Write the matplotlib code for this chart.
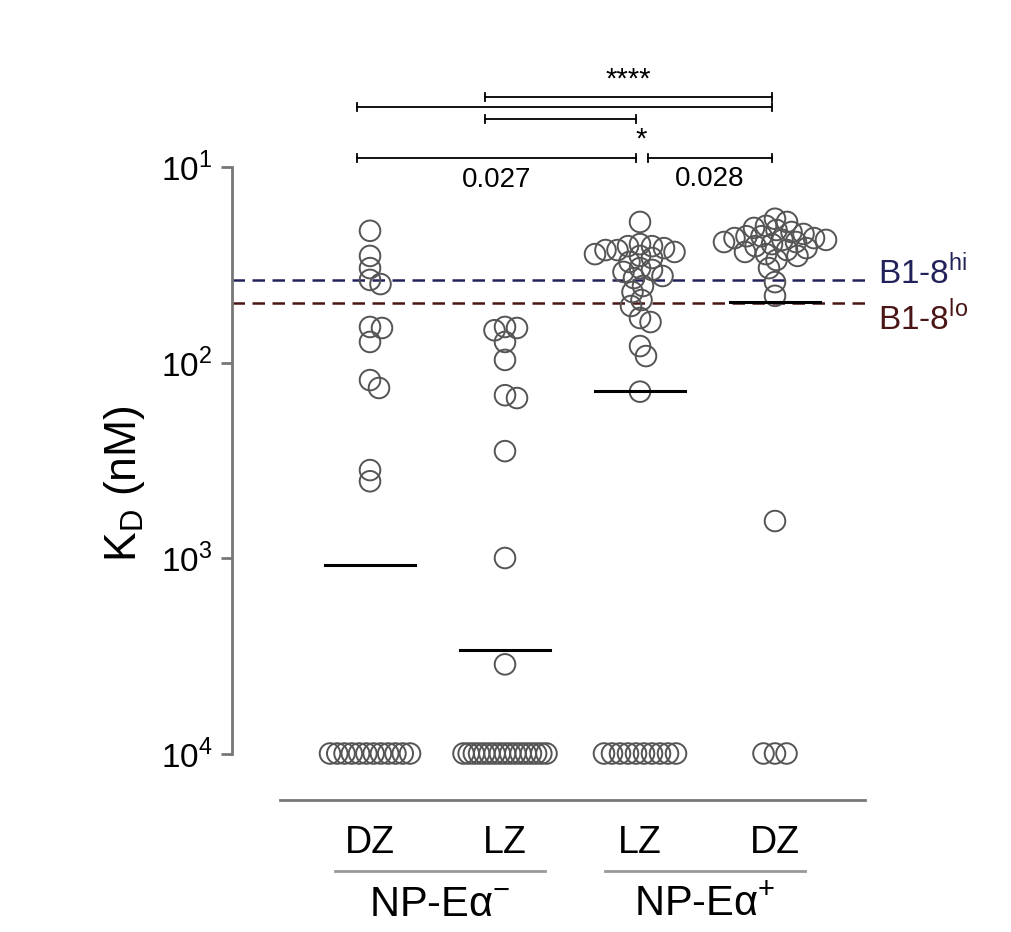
import numpy as np
import matplotlib
matplotlib.use("Agg")
import matplotlib.pyplot as plt
from matplotlib.transforms import blended_transform_factory

plt.rcParams['font.family'] = ['Liberation Sans', 'DejaVu Sans']
plt.rcParams['mathtext.fontset'] = 'custom'
plt.rcParams['mathtext.rm'] = 'Liberation Sans'

groups = ["DZ", "LZ", "LZ", "DZ"]
g1 = [21.2, 28.5, 32.9, 37.8, 39.7, 65.8, 66.6, 78.5, 123, 135, 355, 405]
g2 = [65.8, 66.6, 68.4, 78.5, 97, 147, 152, 284, 1000, 3500]
g3 = [19.1, 24.8, 25.4, 25.4, 26, 26.6, 26.6, 27.2, 27.9, 28.5, 29.2, 30.6, 32.9, 33.6,
      34.4, 36.1, 37, 40.6, 43.6, 47.9, 51.4, 59.2, 62.1, 82.4, 92.7, 141]
g4 = [18.4, 19.1, 20, 20.5, 21, 21.5, 22, 22.6, 22.6, 23.1, 23.1, 23.6, 23.6, 24.2, 24.2,
      24.8, 25.4, 26, 26.6, 27.2, 27.9, 28.5, 29.9, 32.9, 38.8, 45.6, 647]
n_nonbinders = [12, 17, 10, 3]
medians = [1087, 2950, 140, 49]
b18_hi, b18_lo = 37.8, 49.5
series = [g1, g2, g3, g4]

fig = plt.figure(figsize=(10.12, 9.32), dpi=100)
ax = fig.add_axes([232/1012, 1-800/932, (865-232)/1012, 633/932])
ax.set_yscale("log")
ymax = 10**(1 + (800-167)/195.5)
ax.set_ylim(ymax, 10)
ax.set_xlim((232-370)/135, (865-370)/135)

PX_X, PX_Y = 135.0, 195.5
def swarm(vals, d=11):
    placed = []
    out = []
    for v in sorted(vals):
        yp = np.log10(v)*PX_Y
        for k in range(0, 80):
            found = False
            for off in ([0] if k == 0 else [k*1.5, -k*1.5]):
                if all((off-px)**2 + (yp-py)**2 >= d*d for px, py in placed):
                    placed.append((off, yp)); out.append((off/PX_X, v)); found = True; break
            if found: break
    return out

zero_w = [80, 83, 72, 23]
for i, vals in enumerate(series):
    pts = swarm(vals)
    xs = [i + p[0] for p in pts]; ys = [p[1] for p in pts]
    ax.scatter(xs, ys, s=220, facecolors="none", edgecolors="#555555", linewidths=1.4, zorder=3)
    n = n_nonbinders[i]
    zx = i + np.linspace(-zero_w[i]/2, zero_w[i]/2, n)/PX_X
    ax.scatter(zx, [1e4]*n, s=220, facecolors="none", edgecolors="#555555", linewidths=1.4, zorder=3)
    ax.plot([i-0.33, i+0.33], [medians[i]]*2, color="black", lw=2.2, zorder=4)

ax.axhline(b18_hi, color="#22225a", ls="--", lw=1.8, dashes=(5, 3))
ax.axhline(b18_lo, color="#4a1515", ls="--", lw=1.8, dashes=(5, 3))
ax.text(1.02, 1-(np.log10(b18_hi)-1)*PX_Y/633 + 0.012, "B1-8$^{\\mathregular{hi}}$", transform=ax.transAxes,
        color="#22225a", fontsize=24, va="center", ha="left")
ax.text(1.02, 1-(np.log10(b18_lo)-1)*PX_Y/633 - 0.025, "B1-8$^{\\mathregular{lo}}$", transform=ax.transAxes,
        color="#4a1515", fontsize=24, va="center", ha="left")

for s in ["top", "right"]:
    ax.spines[s].set_visible(False)
ax.spines["left"].set_bounds(10, 1e4)
ax.spines["left"].set_color("#777777"); ax.spines["left"].set_linewidth(2)
ax.spines["bottom"].set_bounds((280-370)/135, (865-370)/135)
ax.spines["bottom"].set_color("#777777"); ax.spines["bottom"].set_linewidth(2)
ax.set_yticks([10, 100, 1000, 10000])
ax.set_yticklabels(["10$^{1}$", "10$^{2}$", "10$^{3}$", "10$^{4}$"], fontsize=24)
ax.yaxis.set_minor_locator(matplotlib.ticker.NullLocator())
ax.tick_params(axis="y", length=8, width=2, color="#777777", pad=6)
ax.set_xticks(range(4))
ax.set_xticklabels(groups, fontsize=27)
ax.tick_params(axis="x", length=0, pad=18)
ax.set_ylabel("K$_\\mathregular{D}$ (nM)", fontsize=32, labelpad=10)

tr = blended_transform_factory(ax.transData, ax.transAxes)
def yf(ypx): return (800-ypx)/633
def xd(xpx): return (xpx-370)/135
def bracket(x1, x2, ypx):
    y = yf(ypx); h = 0.007
    ax.plot([xd(x1), xd(x2)], [y, y], transform=tr, color="black", lw=1.3, clip_on=False)
    for xx in (x1, x2):
        ax.plot([xd(xx)]*2, [y-h, y+h], transform=tr, color="black", lw=1.3, clip_on=False)
bracket(485, 772, 97); bracket(357, 772, 107); bracket(485, 636, 119)
bracket(357, 636, 158); bracket(648, 772, 158)
ax.text(xd(628), yf(80), "****", transform=tr, ha="center", va="center", fontsize=21)
ax.text(xd(641), yf(140), "*", transform=tr, ha="center", va="center", fontsize=21)
ax.text(xd(497), yf(180), "0.027", transform=tr, ha="center", va="center", fontsize=20)
ax.text(xd(710), yf(179), "0.028", transform=tr, ha="center", va="center", fontsize=20)

for a, b, lab in [(335, 545, "NP-Eα$^{-}$"), (605, 805, "NP-Eα$^{+}$")]:
    ax.plot([xd(a), xd(b)], [yf(871)]*2, transform=tr, color="#999999", lw=2, clip_on=False)
    ax.text(xd((a+b)/2), yf(905), lab, transform=tr, ha="center", va="center", fontsize=30)

fig.savefig("out.png", dpi=100, facecolor="white")
